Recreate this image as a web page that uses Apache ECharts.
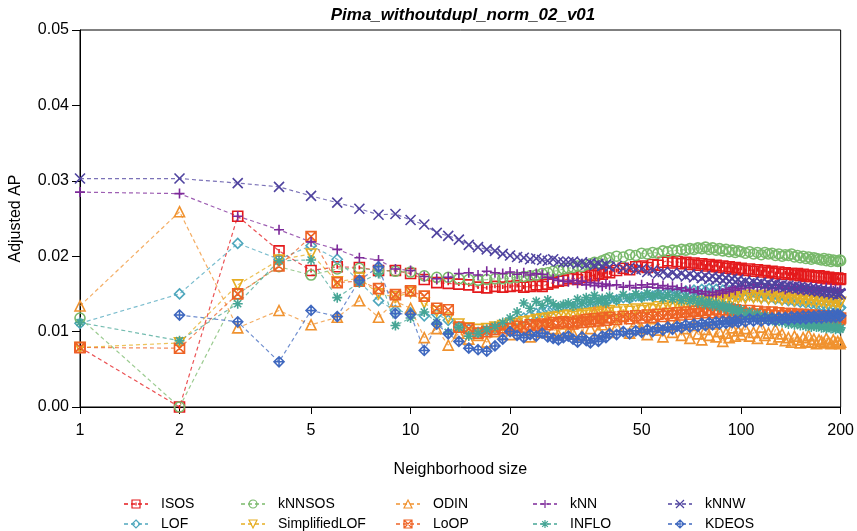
<!DOCTYPE html>
<html>
<head>
<meta charset="utf-8">
<script src="https://cdn.jsdelivr.net/npm/echarts@6/dist/echarts.min.js"></script>
<style>
  html, body { margin: 0; padding: 0; background: #fff; }
  #main { width: 857px; height: 531px; }
</style>
</head>
<body>
<div id="main"></div>
<script>
// neighborhood sizes (x)
var ks = [1,2,3,4,5,6,7,8,9,10,11,12,13,14,15,16,17,18,19,20,21,22,23,24,25,26,27,28,29,30,
  31,32,33,34,35,36,37,38,39,40,
  42,44,46,48,50,52,54,56,58,60,62,64,66,68,70,72,74,76,78,80,82,84,86,88,90,92,94,96,98,100,
  103,106,109,112,115,118,121,124,127,130,133,136,139,142,145,148,151,154,157,160,163,166,169,172,175,178,181,184,187,190,193,196,199,
  200];

var isos = [.0079,.0000,.0253,.0207,.0181,.0186,.0185,.0181,.0181,.0177,.0169,.0165,.0164,.0163,.0162,.0159,.0158,.0160,.0159,.0160,.0161,.0159,.0160,.0162,.0160,.0163,.0165,.0167,.0168,.0170,
  .0171,.0169,.0173,.0172,.0175,.0174,.0177,.0176,.0179,.0178,
  .0181,.0184,.0182,.0186,.0187,.0185,.0189,.0188,.0192,.0194,.0191,.0193,.0190,.0192,.0189,.0191,.0188,.0190,.0187,.0189,.0186,.0188,.0185,.0187,.0184,.0186,.0183,.0185,.0182,.0184,
  .0181,.0183,.0180,.0182,.0179,.0181,.0178,.0180,.0177,.0179,.0176,.0178,.0176,.0177,.0175,.0177,.0174,.0176,.0173,.0175,.0173,.0174,.0172,.0174,.0171,.0173,.0170,.0172,.0170,.0171,.0169,.0171,.0169,
  .0170];

var knnsos = [.0118,.0000,.0150,.0186,.0175,.0183,.0184,.0181,.0180,.0179,.0174,.0172,.0172,.0170,.0169,.0168,.0169,.0170,.0170,.0171,.0172,.0173,.0174,.0175,.0177,.0178,.0180,.0181,.0183,.0184,
  .0185,.0187,.0186,.0189,.0190,.0192,.0191,.0194,.0196,.0198,
  .0200,.0199,.0202,.0201,.0204,.0203,.0205,.0204,.0207,.0206,.0208,.0207,.0209,.0208,.0210,.0209,.0211,.0210,.0212,.0209,.0211,.0208,.0210,.0207,.0209,.0206,.0208,.0205,.0207,.0206,
  .0204,.0206,.0203,.0205,.0202,.0205,.0203,.0204,.0201,.0203,.0200,.0202,.0201,.0203,.0199,.0201,.0198,.0200,.0197,.0199,.0196,.0198,.0197,.0196,.0195,.0197,.0194,.0196,.0193,.0195,.0194,.0193,.0195,
  .0194];

var odin = [.0134,.0259,.0105,.0128,.0109,.0119,.0141,.0119,.0140,.0131,.0092,.0104,.0082,.0098,.0090,.0095,.0086,.0100,.0108,.0096,.0110,.0102,.0093,.0108,.0099,.0115,.0104,.0096,.0110,.0101,
  .0098,.0112,.0095,.0118,.0104,.0126,.0101,.0109,.0132,.0099,
  .0107,.0121,.0098,.0113,.0104,.0096,.0117,.0102,.0093,.0109,.0099,.0114,.0095,.0104,.0091,.0108,.0097,.0089,.0103,.0095,.0110,.0093,.0100,.0087,.0098,.0092,.0105,.0094,.0101,.0096,
  .0104,.0094,.0099,.0091,.0106,.0095,.0098,.0090,.0103,.0093,.0097,.0088,.0092,.0086,.0094,.0089,.0085,.0092,.0087,.0095,.0086,.0090,.0084,.0089,.0087,.0085,.0091,.0086,.0084,.0089,.0085,.0087,.0084,
  .0086];

var knn = [.0285,.0283,.0253,.0235,.0219,.0209,.0198,.0195,.0183,.0181,.0173,.0170,.0172,.0177,.0178,.0175,.0180,.0178,.0177,.0179,.0176,.0178,.0175,.0177,.0176,.0172,.0170,.0168,.0167,.0166,
  .0168,.0164,.0167,.0162,.0165,.0161,.0164,.0160,.0163,.0161,
  .0162,.0159,.0161,.0158,.0162,.0159,.0163,.0158,.0161,.0157,.0160,.0156,.0158,.0154,.0156,.0152,.0154,.0150,.0153,.0148,.0152,.0149,.0154,.0151,.0156,.0153,.0158,.0155,.0160,.0157,
  .0161,.0158,.0162,.0159,.0163,.0158,.0161,.0157,.0162,.0158,.0161,.0156,.0160,.0157,.0159,.0156,.0160,.0155,.0158,.0156,.0159,.0154,.0158,.0155,.0157,.0154,.0158,.0153,.0157,.0154,.0156,.0153,.0155,
  .0155];

var knnw = [.0303,.0303,.0297,.0292,.0280,.0271,.0263,.0255,.0256,.0248,.0242,.0231,.0227,.0222,.0215,.0212,.0209,.0207,.0203,.0201,.0199,.0198,.0196,.0197,.0195,.0194,.0196,.0193,.0192,.0192,
  .0193,.0190,.0192,.0189,.0191,.0188,.0190,.0187,.0189,.0186,
  .0187,.0184,.0185,.0182,.0183,.0179,.0181,.0177,.0179,.0175,.0178,.0174,.0177,.0173,.0176,.0172,.0175,.0171,.0174,.0170,.0173,.0169,.0172,.0168,.0171,.0167,.0170,.0166,.0169,.0165,
  .0167,.0164,.0166,.0163,.0165,.0162,.0164,.0161,.0163,.0160,.0162,.0159,.0161,.0158,.0160,.0157,.0159,.0156,.0158,.0155,.0157,.0154,.0156,.0153,.0155,.0152,.0154,.0151,.0153,.0150,.0152,.0149,.0151,
  .0150];

var lof = [.0111,.0150,.0217,.0196,.0214,.0196,.0166,.0141,.0128,.0125,.0121,.0123,.0115,.0106,.0103,.0099,.0101,.0104,.0108,.0112,.0115,.0118,.0121,.0124,.0126,.0128,.0130,.0131,.0133,.0134,
  .0133,.0136,.0135,.0138,.0137,.0139,.0138,.0141,.0140,.0143,
  .0142,.0145,.0144,.0147,.0146,.0148,.0147,.0150,.0149,.0151,.0150,.0153,.0151,.0154,.0152,.0155,.0153,.0156,.0154,.0157,.0153,.0156,.0152,.0155,.0151,.0154,.0150,.0153,.0149,.0152,
  .0147,.0150,.0146,.0149,.0145,.0148,.0144,.0147,.0143,.0146,.0142,.0145,.0141,.0144,.0140,.0143,.0139,.0142,.0138,.0141,.0137,.0140,.0136,.0139,.0135,.0138,.0134,.0137,.0133,.0136,.0132,.0135,.0131,
  .0132];

var simplifiedLof = [.0079,.0085,.0162,.0195,.0203,.0166,.0171,.0150,.0146,.0152,.0138,.0127,.0118,.0110,.0105,.0103,.0104,.0106,.0108,.0110,.0111,.0113,.0114,.0116,.0117,.0118,.0119,.0120,.0121,.0122,
  .0120,.0123,.0121,.0124,.0122,.0125,.0123,.0127,.0125,.0128,
  .0126,.0129,.0127,.0130,.0128,.0131,.0129,.0133,.0131,.0134,.0132,.0136,.0134,.0137,.0135,.0139,.0137,.0140,.0138,.0142,.0140,.0143,.0141,.0145,.0142,.0146,.0143,.0147,.0144,.0147,
  .0144,.0148,.0145,.0147,.0144,.0148,.0143,.0147,.0144,.0146,.0142,.0146,.0143,.0145,.0141,.0145,.0142,.0144,.0140,.0144,.0141,.0143,.0139,.0143,.0140,.0142,.0138,.0142,.0139,.0141,.0138,.0140,.0137,
  .0139];

var loop = [.0079,.0078,.0150,.0187,.0226,.0165,.0167,.0157,.0149,.0154,.0147,.0131,.0129,.0106,.0104,.0098,.0100,.0103,.0105,.0104,.0107,.0106,.0109,.0108,.0110,.0109,.0112,.0111,.0113,.0112,
  .0110,.0114,.0112,.0116,.0113,.0117,.0114,.0118,.0115,.0119,
  .0116,.0120,.0117,.0121,.0118,.0122,.0119,.0123,.0120,.0124,.0121,.0125,.0122,.0126,.0123,.0127,.0124,.0128,.0125,.0129,.0125,.0130,.0126,.0129,.0125,.0130,.0124,.0129,.0125,.0128,
  .0124,.0128,.0123,.0127,.0123,.0126,.0122,.0126,.0121,.0125,.0121,.0124,.0120,.0124,.0120,.0123,.0119,.0123,.0119,.0122,.0118,.0122,.0118,.0121,.0117,.0121,.0117,.0120,.0116,.0120,.0116,.0119,.0116,
  .0118];

var inflo = [.0112,.0088,.0137,.0194,.0195,.0145,.0165,.0177,.0108,.0118,.0126,.0112,.0099,.0106,.0094,.0098,.0103,.0107,.0112,.0118,.0126,.0138,.0131,.0140,.0135,.0142,.0137,.0133,.0136,.0138,
  .0134,.0143,.0137,.0145,.0139,.0148,.0140,.0144,.0138,.0147,
  .0142,.0149,.0144,.0150,.0145,.0151,.0146,.0150,.0144,.0149,.0143,.0148,.0141,.0146,.0140,.0144,.0138,.0142,.0136,.0140,.0134,.0138,.0132,.0136,.0130,.0134,.0127,.0131,.0125,.0129,
  .0122,.0126,.0119,.0124,.0117,.0121,.0115,.0119,.0113,.0117,.0112,.0116,.0110,.0114,.0109,.0113,.0108,.0112,.0107,.0111,.0106,.0110,.0106,.0109,.0105,.0108,.0104,.0108,.0104,.0107,.0103,.0107,.0103,
  .0105];

var kdeos = [null,.0122,.0113,.0060,.0128,.0120,.0168,.0186,.0124,.0123,.0075,.0110,.0097,.0087,.0078,.0076,.0074,.0081,.0090,.0100,.0095,.0092,.0096,.0094,.0098,.0093,.0091,.0089,.0092,.0094,
  .0090,.0086,.0093,.0088,.0085,.0091,.0087,.0094,.0092,.0097,
  .0096,.0100,.0097,.0101,.0099,.0103,.0100,.0105,.0102,.0106,.0103,.0107,.0105,.0109,.0106,.0110,.0107,.0111,.0108,.0112,.0109,.0113,.0110,.0114,.0111,.0114,.0112,.0115,.0112,.0116,
  .0113,.0117,.0114,.0117,.0114,.0118,.0115,.0118,.0115,.0119,.0116,.0119,.0116,.0120,.0117,.0120,.0117,.0121,.0117,.0121,.0118,.0121,.0118,.0122,.0118,.0122,.0119,.0122,.0119,.0123,.0119,.0123,.0120,
  .0121];

var xTicks = [1, 2, 5, 10, 20, 50, 100, 200];

// symbols (stroked outlines)
var symSquare = 'path://M0,0L10,0L10,10L0,10ZM5,3L5,7';
var symPlus = 'path://M5,0L5,10M0,5L10,5';
var symCross = 'path://M0,0L10,10M10,0L0,10';
var symDown = 'path://M0,0L10,0L5,9Z';
var symSqX = 'path://M0,0L10,0L10,10L0,10ZM0,0L10,10M10,0L0,10';
var symStar = 'path://M5,0L5,10M0,5L10,5M1.5,1.5L8.5,8.5M8.5,1.5L1.5,8.5';
var symDiaPlus = 'path://M5,0L10,5L5,10L0,5ZM5,0L5,10M0,5L10,5';

var defs = [
  ['ISOS', isos, '#e41a1c', symSquare],
  ['LOF', lof, '#4fa7bd', 'diamond'],
  ['kNNSOS', knnsos, '#79b96b', 'circle'],
  ['SimplifiedLOF', simplifiedLof, '#e6ad22', symDown],
  ['ODIN', odin, '#f0922f', 'triangle'],
  ['LoOP', loop, '#ee6325', symSqX],
  ['kNN', knn, '#7d2a9a', symPlus],
  ['INFLO', inflo, '#46a595', symStar],
  ['kNNW', knnw, '#4f439f', symCross],
  ['KDEOS', kdeos, '#3f68bf', symDiaPlus]
];
var colorOf = {};
defs.forEach(function (d) { colorOf[d[0]] = d[2]; });

var series = defs.map(function (d) {
  return {
    name: d[0],
    type: 'line',
    data: ks.map(function (k, i) { return [k, d[1][i]]; }),
    symbol: d[3],
    symbolSize: 10,
    showAllSymbol: true,
    connectNulls: false,
    lineStyle: { color: d[2], width: 1.2, type: [4, 3], opacity: 0.75 },
    itemStyle: { color: 'transparent', borderColor: d[2], borderWidth: 1.6 },
    emphasis: { disabled: true },
    animation: false
  };
});

// one legend per entry, laid out as 5 columns x 2 rows
var legendPos = [
  ['ISOS', 118, 492], ['kNNSOS', 235, 492], ['ODIN', 390, 492], ['kNN', 527, 492], ['kNNW', 662, 492],
  ['LOF', 118, 512], ['SimplifiedLOF', 235, 512], ['LoOP', 390, 512], ['INFLO', 527, 512], ['KDEOS', 662, 512]
];
var legends = legendPos.map(function (p) {
  return {
    left: p[1],
    top: p[2],
    itemWidth: 24,
    itemHeight: 10,
    data: [{ name: p[0], itemStyle: { color: 'transparent', borderColor: colorOf[p[0]], borderWidth: 1.2 } }],
    textStyle: { fontFamily: 'Liberation Sans', fontSize: 14, color: '#000', padding: [0, 0, 0, 8] }
  };
});

var myChart = echarts.init(document.getElementById('main'));
var option = {
  backgroundColor: '#fff',
  title: {
    text: 'Pima_withoutdupl_norm_02_v01',
    left: 458,
    textAlign: 'center',
    top: 2,
    textStyle: { fontFamily: 'Liberation Sans', fontSize: 17, fontWeight: 'bold', fontStyle: 'italic', color: '#000' }
  },
  legend: legends,
  grid: { left: 76, right: 16, top: 30, bottom: 124, show: true, borderColor: '#000', borderWidth: 1 },
  xAxis: {
    type: 'log',
    logBase: 10,
    min: 1,
    max: 200,
    name: 'Neighborhood size',
    nameLocation: 'middle',
    nameGap: 55,
    nameTextStyle: { fontFamily: 'Liberation Sans', fontSize: 16, color: '#000' },
    axisLine: { lineStyle: { color: '#000' } },
    axisTick: { length: 7, lineStyle: { color: '#000' }, customValues: xTicks },
    axisLabel: { fontFamily: 'Liberation Sans', fontSize: 16, color: '#000', margin: 16, customValues: xTicks },
    splitLine: { show: false },
    minorTick: { show: false }
  },
  yAxis: {
    type: 'value',
    min: 0,
    max: 0.05,
    interval: 0.01,
    name: 'Adjusted AP',
    nameLocation: 'middle',
    nameGap: 56,
    nameTextStyle: { fontFamily: 'Liberation Sans', fontSize: 16, color: '#000' },
    axisLine: { show: true, lineStyle: { color: '#000' } },
    axisTick: { show: true, length: 8, lineStyle: { color: '#000' } },
    axisLabel: { fontFamily: 'Liberation Sans', fontSize: 16, color: '#000', margin: 11,
      formatter: function (v) { return v.toFixed(2); } },
    splitLine: { show: false }
  },
  series: series
};
myChart.setOption(option);
</script>
</body>
</html>
